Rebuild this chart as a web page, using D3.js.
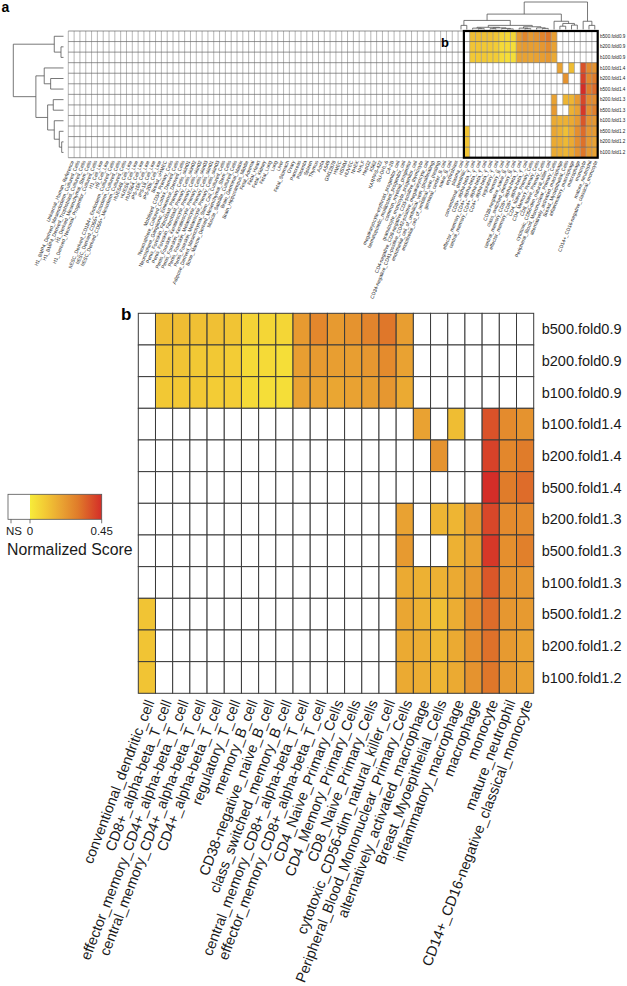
<!DOCTYPE html>
<html><head><meta charset="utf-8">
<script src="https://cdn.jsdelivr.net/npm/d3@7"></script>
<style>body{margin:0;background:#fff;} text{font-family:"Liberation Sans",Arial,Helvetica,sans-serif;}</style>
</head><body><svg id="c" width="627" height="986"></svg>
<script>
// ---------------- DATA ----------------
const rowLabels = ["b500.fold0.9","b200.fold0.9","b100.fold0.9","b100.fold1.4","b200.fold1.4","b500.fold1.4",
  "b200.fold1.3","b500.fold1.3","b100.fold1.3","b500.fold1.2","b200.fold1.2","b100.fold1.2"];

const boxColumns = ["conventional_dendritic_cell","CD8+_alpha-beta_T_cell","effector_memory_CD4+_alpha-beta_T_cell",
  "central_memory_CD4+_alpha-beta_T_cell","CD4+_alpha-beta_T_cell","regulatory_T_cell","memory_B_cell",
  "CD38-negative_naive_B_cell","class_switched_memory_B_cell","central_memory_CD8+_alpha-beta_T_cell",
  "effector_memory_CD8+_alpha-beta_T_cell","CD4_Naive_Primary_Cells","CD4_Memory_Primary_Cells",
  "CD8_Naive_Primary_Cells","cytotoxic_CD56-dim_natural_killer_cell","Peripheral_Blood_Mononuclear_Primary_Cells",
  "alternatively_activated_macrophage","Breast_Myoepithelial_Cells","inflammatory_macrophage","macrophage",
  "monocyte","mature_neutrophil","CD14+_CD16-negative_classical_monocyte"];

const otherColumns = ["Universal_Human_Reference","H1_BMP4_Derived_Mesendoderm_Cultured_Cells",
  "H1_BMP4_Derived_Trophoblast_Cultured_Cells","H1_Derived_Mesenchymal_Stem_Cells",
  "H1_Derived_Neuronal_Progenitor_Cultured_Cells","H1_Cell_Line","H9_Cell_Line",
  "hESC_Derived_CD184+_Endoderm_Cultured_Cells","hESC_Derived_CD56+_Ectoderm_Cultured_Cells",
  "hESC_Derived_CD56+_Mesoderm_Cultured_Cells","HUES48_Cell_Line","HUES6_Cell_Line","HUES64_Cell_Line",
  "iPS-15b_Cell_Line","iPS-18_Cell_Line","iPS-20b_Cell_Line","Breast_vHMEC","Mobilized_CD34_Primary_Cells",
  "Neurosphere_Cultured_Cortex_Derived_Cells","Neurosphere_Ganglionic_Eminence_Derived_Cells",
  "Penis_Foreskin_Fibroblast_Primary_Cells_skin01","Penis_Foreskin_Fibroblast_Primary_Cells_skin02",
  "Penis_Foreskin_Keratinocyte_Primary_Cells_skin02","Penis_Foreskin_Keratinocyte_Primary_Cells_skin03",
  "Penis_Foreskin_Melanocyte_Primary_Cells_skin01","Penis_Foreskin_Melanocyte_Primary_Cells_skin03",
  "Adipose_Derived_Mesenchymal_Stem_Cell_Cultured_Cells","Bone_Marrow_Derived_Mesenchymal_Stem_Cells",
  "Muscle_Satellite_Cultured_Cells","Brain_Germinal_Matrix","Brain_Hippocampus_Middle","Fetal_Adrenal",
  "Fetal_Heart","Fetal_Kidney","Fetal_Lung","Lung","Liver","Fetal_Stomach","Ovary","Pancreas","Placenta",
  "Spleen","Thymus","Aorta","A549","GM12878","HMEC","HSMM","HUVEC","NHEK","NHLF","HepG2","K562",
  "KARPAS-422","SU-DHL-6","C4-2B",
  "megakaryocyte-erythroid_progenitor_cell","hematopoietic_multipotent_progenitor_cell",
  "common_myeloid_progenitor","granulocyte_monocyte_progenitor_cell",
  "CD4-negative_CD8-negative_CD3-positive_thymocyte","CD34-negative_CD41-positive_CD42-positive_megakaryocyte_cell",
  "endothelial_cell_of_umbilical_vein_(proliferating)","endothelial_cell_of_umbilical_vein_(resting)",
  "germinal_center_B_cell","naive_B_cell","erythroblast","plasma_cell"];

const NS = null;
// normalized scores, rows x boxColumns (NS = not significant)
const scores = [
  [NS,.13,.13,.12,.12,.11,.07,.06,.06,.22,.27,.22,.24,.28,.31,.21,NS,NS,NS,NS,NS,NS,NS],
  [NS,.11,.11,.10,.10,.09,.05,.05,.04,.21,.22,.21,.21,.23,.26,.20,NS,NS,NS,NS,NS,NS,NS],
  [NS,.10,.10,.10,.09,.09,.05,.04,.04,.20,.20,.19,.20,.21,.23,.18,NS,NS,NS,NS,NS,NS,NS],
  [NS,NS,NS,NS,NS,NS,NS,NS,NS,NS,NS,NS,NS,NS,NS,NS,.20,NS,.13,NS,.38,.26,.24],
  [NS,NS,NS,NS,NS,NS,NS,NS,NS,NS,NS,NS,NS,NS,NS,NS,NS,.24,NS,NS,.41,.27,.30],
  [NS,NS,NS,NS,NS,NS,NS,NS,NS,NS,NS,NS,NS,NS,NS,NS,NS,NS,NS,NS,.45,.30,.33],
  [NS,NS,NS,NS,NS,NS,NS,NS,NS,NS,NS,NS,NS,NS,NS,.20,NS,.15,.15,.22,.40,.26,.26],
  [NS,NS,NS,NS,NS,NS,NS,NS,NS,NS,NS,NS,NS,NS,NS,.22,NS,NS,.16,.20,.43,.25,.29],
  [NS,NS,NS,NS,NS,NS,NS,NS,NS,NS,NS,NS,NS,NS,NS,.18,.16,.16,.18,.22,.37,.24,.23],
  [.11,NS,NS,NS,NS,NS,NS,NS,NS,NS,NS,NS,NS,NS,NS,.19,.16,.12,.17,.25,.33,.23,.22],
  [.11,NS,NS,NS,NS,NS,NS,NS,NS,NS,NS,NS,NS,NS,NS,.18,.17,.14,.18,.25,.32,.22,.20],
  [.11,NS,NS,NS,NS,NS,NS,NS,NS,NS,NS,NS,NS,NS,NS,.18,.17,.15,.18,.24,.31,.22,.20]
];

// row dendrogram (heights 0..1, leaves = row index)
const rowTree = {h:1.0, c:[
  {h:0.184, c:[0, {h:0.05, c:[1,2]}]},
  {h:0.55, c:[
    {h:0.384, c:[3, {h:0.256, c:[4,5]}]},
    {h:0.316, c:[{h:0.204, c:[6,7]}, {h:0.184, c:[8, {h:0.084, c:[9, {h:0.036, c:[10,11]}]}]}]}
  ]}
]};
// column dendrogram over right part of panel a (leaves = column index in full panel-a list)
const colTree = {h:1.0, c:[
  {h:0.56, c:[
    {h:0.33, c:[
      {h:0.15, c:[67, 68]},
      {h:0.15, c:[
        {h:0.08, c:[{h:0.05, c:[69,{h:0.03,c:[70,71]}]}, {h:0.06, c:[{h:0.03,c:[72,73]},{h:0.04,c:[74,{h:0.02,c:[75,76]}]}]}]},
        {h:0.10, c:[{h:0.05, c:[77,{h:0.03,c:[78,79]}]}, {h:0.06, c:[80,{h:0.04,c:[81,82]}]}]}
      ]}
    ]},
    {h:0.30, c:[83, {h:0.22, c:[{h:0.12,c:[84,85]},{h:0.16,c:[86,87]}]}]}
  ]},
  {h:0.30, c:[88, {h:0.15, c:[89,90]}]}
]};

const legendTicks = ["NS","0","0.45"];
const scoreMax = 0.45;

// ---------------- STYLE / SCALES ----------------
const colorStops = [0, 0.1, 0.2, 0.3, 0.45];
const colorRange = ["#f7ec3a","#f2c834","#e9a232","#e07c2a","#d42d28"];
const color = d3.scaleLinear().domain(colorStops).range(colorRange).clamp(true);
const fill = v => v === null ? "#ffffff" : color(v);

const svg = d3.select("#c");
svg.append("rect").attr("width",627).attr("height",986).attr("fill","#fff");

// ===== Panel a =====
const allCols = otherColumns.concat(boxColumns);
const nBoxStart = otherColumns.length;
const ax = d3.scaleBand().domain(d3.range(allCols.length)).range([68.3, 597.7]);
const ay = d3.scaleBand().domain(d3.range(rowLabels.length)).range([31, 157.7]);

const cellsA = [];
rowLabels.forEach((r,i)=>allCols.forEach((c,j)=>{
  const v = j < nBoxStart ? null : scores[i][j-nBoxStart];
  cellsA.push({i,j,v});
}));
const ga = svg.append("g");
ga.selectAll("rect.c").data(cellsA).join("rect")
  .attr("x",d=>ax(d.j)).attr("y",d=>ay(d.i))
  .attr("width",ax.bandwidth()+0.3).attr("height",ay.bandwidth()+0.3)
  .attr("fill",d=>fill(d.v));
ga.selectAll("line.v").data(d3.range(allCols.length+1)).join("line")
  .attr("x1",j=>ax.range()[0]+j*ax.step()).attr("x2",j=>ax.range()[0]+j*ax.step())
  .attr("y1",ay.range()[0]).attr("y2",ay.range()[1])
  .attr("stroke","#9a9a9a").attr("stroke-width",0.7);
ga.selectAll("line.h").data(d3.range(rowLabels.length+1)).join("line")
  .attr("y1",i=>ay.range()[0]+i*ay.step()).attr("y2",i=>ay.range()[0]+i*ay.step())
  .attr("x1",ax.range()[0]).attr("x2",ax.range()[1])
  .attr("stroke","#666").attr("stroke-width",0.7);
ga.append("rect").attr("x",ax(nBoxStart)).attr("y",ay.range()[0])
  .attr("width",ax.range()[1]-ax(nBoxStart)).attr("height",ay.range()[1]-ay.range()[0])
  .attr("fill","none").attr("stroke","#000").attr("stroke-width",2.2);
ga.selectAll("text.rl").data(rowLabels).join("text")
  .attr("x",600).attr("y",(d,i)=>ay(i)+ay.bandwidth()/2).attr("dy","0.35em")
  .attr("font-size",4.6).attr("fill","#222").text(d=>d);
ga.selectAll("text.cl").data(allCols).join("text")
  .attr("transform",(d,j)=>`translate(${ax(j)+ax.bandwidth()/2+1.2},${ay.range()[1]+3}) rotate(-68)`)
  .attr("text-anchor","end").attr("dy","0.35em")
  .attr("font-size",5).attr("fill","#222").text(d=>d);

function layout(node, leafPos){
  if (typeof node === "number") return {pos:leafPos(node), h:0, leaf:true};
  const kids = node.c.map(k=>layout(k,leafPos));
  return {pos:d3.mean(kids,k=>k.pos), h:node.h, kids};
}
function segs(n, out){
  if (!n.kids) return out;
  n.kids.forEach(k=>{ out.push({a:k.pos, b:k.pos, h1:k.h, h2:n.h}); segs(k,out); });
  out.push({a:n.kids[0].pos, b:n.kids[1].pos, h1:n.h, h2:n.h});
  return out;
}
const rowH = d3.scaleLinear().domain([0,1]).range([63.5,13.3]);
const rowSegs = segs(layout(rowTree, i=>ay(i)+ay.bandwidth()/2), []);
ga.selectAll("line.rd").data(rowSegs).join("line")
  .attr("x1",d=>rowH(d.h1)).attr("x2",d=>rowH(d.h2))
  .attr("y1",d=>d.a).attr("y2",d=>d.b)
  .attr("stroke","#555").attr("stroke-width",0.8);
const colH = d3.scaleLinear().domain([0,1]).range([29.5,2]);
const colSegs = segs(layout(colTree, j=>ax(j)+ax.bandwidth()/2), []);
ga.selectAll("line.cd").data(colSegs).join("line")
  .attr("y1",d=>colH(d.h1)).attr("y2",d=>colH(d.h2))
  .attr("x1",d=>d.a).attr("x2",d=>d.b)
  .attr("stroke","#555").attr("stroke-width",0.8);

svg.append("text").attr("x",1.5).attr("y",11.7).attr("font-size",14).attr("font-weight","bold").text("a");
svg.append("text").attr("x",441).attr("y",46.7).attr("font-size",13).attr("font-weight","bold").text("b");

// ===== Panel b =====
const bx = d3.scaleBand().domain(d3.range(boxColumns.length)).range([138.3, 533.7]);
const by = d3.scaleBand().domain(d3.range(rowLabels.length)).range([313.3, 693.3]);
const cellsB = [];
rowLabels.forEach((r,i)=>boxColumns.forEach((c,j)=>cellsB.push({i,j,v:scores[i][j]})));
const gb = svg.append("g");
gb.selectAll("rect").data(cellsB).join("rect")
  .attr("x",d=>bx(d.j)).attr("y",d=>by(d.i))
  .attr("width",bx.bandwidth()).attr("height",by.bandwidth())
  .attr("fill",d=>fill(d.v)).attr("stroke","#3a3a3a").attr("stroke-width",1);
gb.selectAll("text.rl").data(rowLabels).join("text")
  .attr("x",541.7).attr("y",(d,i)=>by(i)+by.bandwidth()/2).attr("dy","0.35em")
  .attr("font-size",14.5).attr("fill","#1a1a1a").text(d=>d);
gb.selectAll("text.cl").data(boxColumns).join("text")
  .attr("transform",(d,j)=>`translate(${bx(j)+bx.bandwidth()/2+3},${by.range()[1]+7}) rotate(-69)`)
  .attr("text-anchor","end").attr("dy","0.35em")
  .attr("font-size",14.5).attr("fill","#1a1a1a").text(d=>d);
svg.append("text").attr("x",121).attr("y",320).attr("font-size",17).attr("font-weight","bold").text("b");

// ===== Legend =====
const lx = d3.scaleLinear().domain([0, scoreMax]).range([30, 101.7]);
const defs = svg.append("defs");
const grad = defs.append("linearGradient").attr("id","lg");
grad.selectAll("stop").data(colorStops).join("stop")
  .attr("offset",d=>(d/scoreMax*100)+"%").attr("stop-color",d=>color(d));
const lg = svg.append("g");
lg.append("rect").attr("x",8).attr("y",494.3).attr("width",lx(0)-8).attr("height",25).attr("fill","#fff");
lg.append("rect").attr("x",lx(0)).attr("y",494.3).attr("width",lx(scoreMax)-lx(0)).attr("height",25).attr("fill","url(#lg)");
lg.append("rect").attr("x",8).attr("y",494.3).attr("width",lx(scoreMax)-8).attr("height",25)
  .attr("fill","none").attr("stroke","#555").attr("stroke-width",0.8);
const tickPos = [11, lx(0), lx(scoreMax)];
lg.selectAll("line.t").data(legendTicks).join("line")
  .attr("x1",(d,i)=>tickPos[i]).attr("x2",(d,i)=>tickPos[i]).attr("y1",519.3).attr("y2",523.3)
  .attr("stroke","#555").attr("stroke-width",0.8);
lg.selectAll("text.t").data(legendTicks).join("text")
  .attr("x",(d,i)=>tickPos[i]+(i===0?3:0)).attr("y",535).attr("text-anchor","middle")
  .attr("font-size",11.5).attr("fill","#1a1a1a").text(d=>d);
lg.append("text").attr("x",7).attr("y",555).attr("font-size",15.8).attr("fill","#1a1a1a").text("Normalized Score");
</script></body></html>
